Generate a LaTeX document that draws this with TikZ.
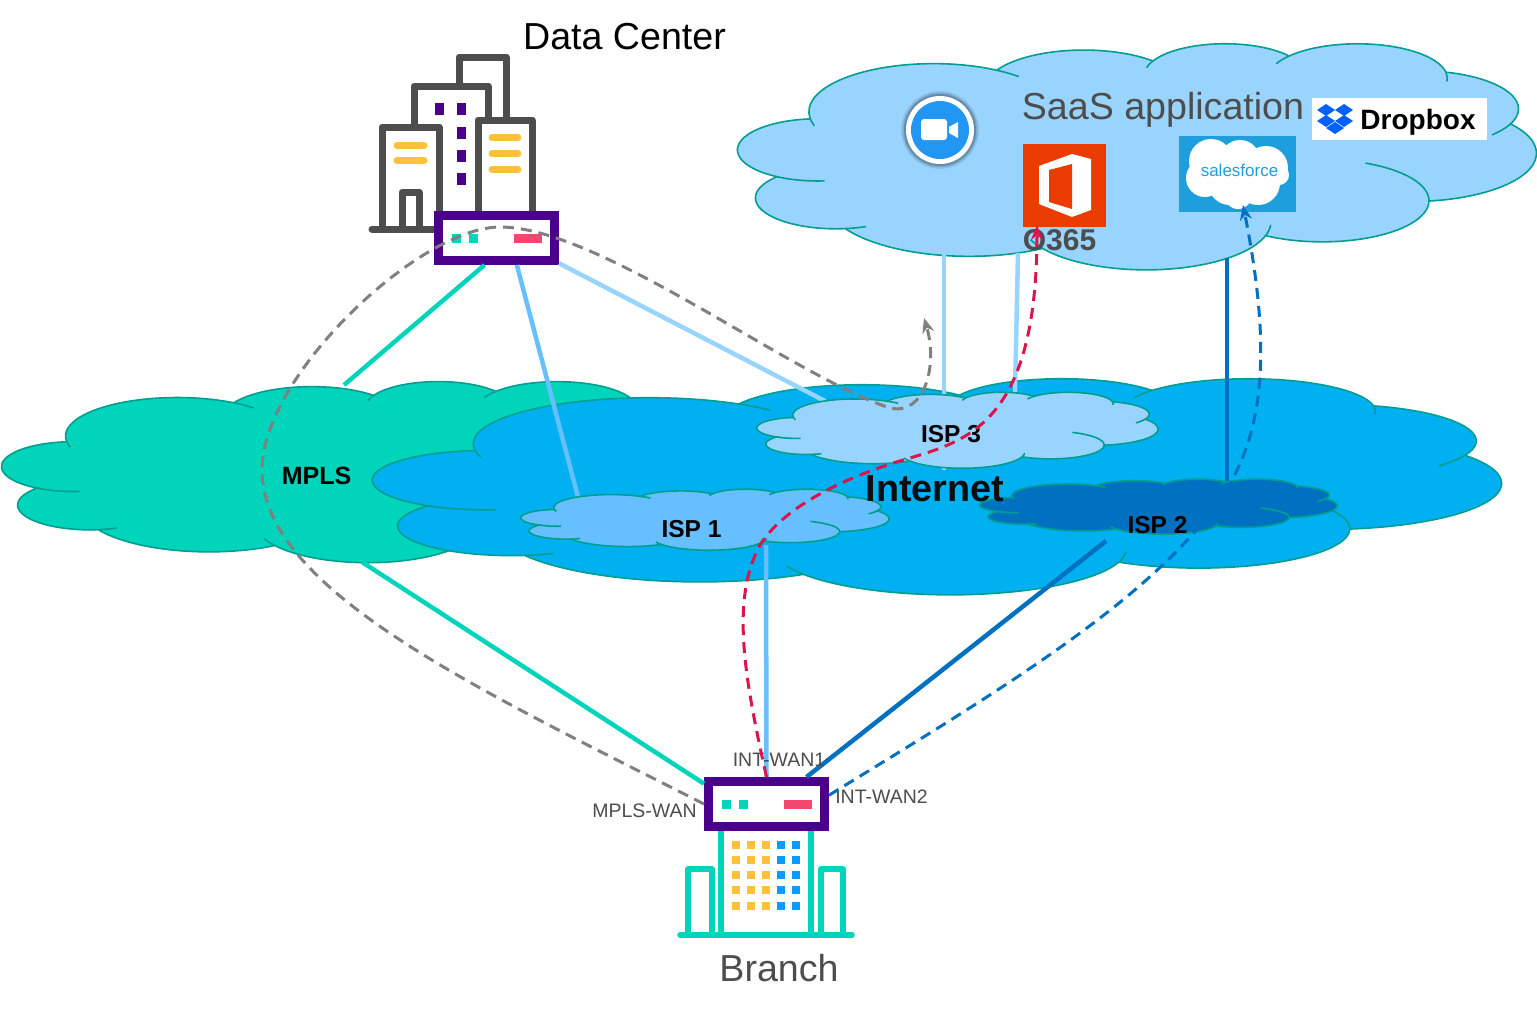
\documentclass[tikz,border=0pt]{standalone}
\usepackage{fontspec}
\setmainfont{Liberation Sans}
\usetikzlibrary{calc, arrows.meta}

\definecolor{cloudline}{HTML}{009E8E}
\definecolor{mplsgreen}{HTML}{00D5BC}
\definecolor{netblue}{HTML}{00B0F0}
\definecolor{lightblue}{HTML}{99D4FF}
\definecolor{midblue}{HTML}{66BFFF}
\definecolor{darkblue}{HTML}{0070C0}
\definecolor{routerpurple}{HTML}{4B008C}
\definecolor{alertred}{HTML}{F44770}
\definecolor{dashred}{HTML}{DC144C}
\definecolor{winyellow}{HTML}{FFC13A}
\definecolor{winblue}{HTML}{0A9BFF}
\definecolor{towergray}{HTML}{4D4D4B}
\definecolor{textgray}{HTML}{4D4D4D}
\definecolor{zoomblue}{HTML}{2196F3}
\definecolor{officered}{HTML}{EB3C00}
\definecolor{salesblue}{HTML}{1F9EDD}
\definecolor{dropblue}{HTML}{0061FF}

% cloud outline: left, top, width, height, fill
\newcommand{\cloudshape}[5]{
    \begin{scope}[shift={(#1,#2)}, xscale=#3/43.2, yscale=#4/43.2]
        \draw[cloudline, line width=1.6pt, fill=#5] (3.9,14.37)
            arc[start angle=172.25, delta angle=128.15, x radius=6.753, y radius=9.19]
            arc[start angle=-152.02, delta angle=106.57, x radius=5.333, y radius=7.267]
            arc[start angle=-153.5, delta angle=116.18, x radius=4.365, y radius=5.945]
            arc[start angle=-139.72, delta angle=129.51, x radius=4.857, y radius=6.595]
            arc[start angle=-74.77, delta angle=97.98, x radius=5.333, y radius=7.273]
            arc[start angle=-37.56, delta angle=119.43, x radius=6.775, y radius=9.22]
            arc[start angle=0.46, delta angle=121.51, x radius=5.785, y radius=7.867]
            arc[start angle=16.85, delta angle=129.38, x radius=6.752, y radius=9.215]
            arc[start angle=58.97, delta angle=91.22, x radius=7.72, y radius=10.543]
            arc[start angle=83.3, delta angle=139.8, x radius=4.36, y radius=5.918]
            arc[start angle=120.35, delta angle=143.75, x radius=4.345, y radius=5.945]
            -- cycle;
        % short inner strokes
        \foreach \cx/\cy/\erx/\ery/\ta/\tb in {
            10.591/13.131/6.753/9.19/163/172.25,
            10.591/13.131/6.753/9.19/-59.6/-46.9,
            26.364/6.086/4.365/5.945/-166.7/-153.5,
            33.539/6.747/4.857/6.595/-154.9/-139.72,
            33.539/6.747/4.857/6.595/-10.21/5,
            36.918/12.596/5.333/7.273/23.21/43,
            31.623/30.147/5.785/7.867/-66.1/0.46,
            22.098/34.15/6.752/9.215/3.74/16.85,
            22.098/34.15/6.752/9.215/146.23/158,
            5.296/29.601/4.36/5.918/68/83.3,
            4.307/20.427/4.345/5.945/84.9/120.35}
            \draw[cloudline, line width=1.6pt] (\cx,\cy) ++({\erx*cos(\ta)},{\ery*sin(\ta)})
                arc[start angle=\ta, end angle=\tb, x radius=\erx, y radius=\ery];
    \end{scope}
}

\begin{document}
\begin{tikzpicture}[
        x=1pt, y=-1pt,
        router/.style={draw=routerpurple, line width=9pt, fill=white, inner sep=0pt,
            minimum width=116pt, minimum height=45pt},
        wanlabel/.style={inner sep=0pt, text=textgray, font=\fontsize{19.5}{21}\selectfont},
        bigtext/.style={inner sep=0pt, text=textgray, font=\fontsize{37.6}{40}\selectfont},
        isptext/.style={inner sep=0pt, text=black, font=\fontsize{24.5}{26}\selectfont\bfseries},
        tower/.style={towergray, line width=7pt, line join=round, line cap=round},
        branchline/.style={mplsgreen, line width=5.5pt, line join=round, line cap=round},
        barmark/.style={winyellow, line width=7pt, line cap=round},
        link/.style={line width=4.5pt},
        dashlink/.style={line width=3pt, dash pattern=on 11pt off 7pt, -{Stealth[length=15pt, width=12pt]}}
    ]
    \useasboundingbox (0,0) rectangle (1537,1013);
    \fill[white] (0,0) rectangle (1537,1013);

    % Big clouds
    \cloudshape{2}{381}{715}{181}{mplsgreen}
    \cloudshape{373}{378}{1128}{216}{netblue}
    \cloudshape{738}{43}{798}{226}{lightblue}

    % Data center building
    \draw[tower] (459,83) -- (459,57) -- (506,57) -- (506,118);
    \draw[tower] (414,125) -- (414,86) -- (488,86) -- (488,118);
    \draw[tower] (382,229) -- (382,127) -- (439,127) -- (439,212);
    \draw[tower] (478,212) -- (478,120) -- (532,120) -- (532,212);
    \draw[tower] (402,229) -- (402,192) -- (419,192) -- (419,229);
    \draw[tower] (372,229) -- (436,229);
    \foreach \wx/\wy in {439/109, 461/109, 461/133, 461/156, 461/179}
        \fill[routerpurple] (\wx-4.5,\wy-6) rectangle (\wx+4.5,\wy+6);
    \foreach \by in {145.5, 160.5}
        \draw[barmark] (397,\by) -- (424,\by);
    \foreach \by in {137.5, 153.5, 169}
        \draw[barmark] (492,\by) -- (518,\by);

    % Branch building
    \foreach \wx in {721, 811}
        \draw[mplsgreen, line width=6pt] (\wx,830) -- (\wx,935);
    \draw[branchline] (688,935) -- (688,869) -- (712,869) -- (712,935);
    \draw[branchline] (821,935) -- (821,869) -- (843,869) -- (843,935);
    \draw[branchline] (680,935) -- (852,935);
    \foreach \wy in {845, 860, 875, 890, 906} {
        \foreach \wx in {736, 751, 766}
            \fill[winyellow] (\wx-3.8,\wy-3.8) rectangle (\wx+3.8,\wy+3.8);
        \foreach \wx in {781, 796}
            \fill[winblue] (\wx-3.8,\wy-3.8) rectangle (\wx+3.8,\wy+3.8);
    }

    % Routers
    \node[router] (dcRouter) at (496.5,238) {};
    \node[router] (branchRouter) at (766.5,804) {};
    \foreach \rname in {dcRouter, branchRouter} {
        \fill[mplsgreen] ($(\rname.center)+(-44.5,-4.5)$) rectangle ++(9,9);
        \fill[mplsgreen] ($(\rname.center)+(-27.5,-4.5)$) rectangle ++(9,9);
        \fill[alertred] ($(\rname.center)+(17.5,-4.5)$) rectangle ++(28,9);
    }

    % Cloud attachment points
    \coordinate (mplsTop) at (344,385);
    \coordinate (mplsBottom) at (362,562);
    \coordinate (isp1Top) at (578,497);
    \coordinate (isp1Bottom) at (766,545);
    \coordinate (isp2Top) at (1227,485);
    \coordinate (isp2Bottom) at (1106,541);
    \coordinate (isp3Left) at (825,401);
    \coordinate (isp3Under) at (944,470);
    \coordinate (isp3Right) at (1015,392);
    \coordinate (saasLeft) at (944,253);
    \coordinate (saasMid) at (1018,253);
    \coordinate (saasRight) at (1227,258);

    % Links
    \draw[link, mplsgreen] (dcRouter.-114) -- (mplsTop);
    \draw[link, mplsgreen] (mplsBottom) -- (branchRouter.162);
    \draw[link, midblue] (dcRouter.-53) -- (isp1Top);
    \draw[link, midblue] (isp1Bottom) -- (branchRouter.north);
    \draw[link, lightblue] (dcRouter.-22) -- (isp3Left);
    \draw[link, lightblue] (saasLeft) -- (isp3Under);
    \draw[link, lightblue] (saasMid) -- (isp3Right);
    \draw[link, darkblue] (saasRight) -- (isp2Top);
    \draw[link, darkblue] (isp2Bottom) -- (branchRouter.34);

    % ISP clouds
    \cloudshape{757}{392}{401}{76}{lightblue}
    \cloudshape{521}{489}{368}{61}{midblue}
    \cloudshape{980}{479}{357}{55}{darkblue}

    % Zoom icon
    \foreach \gr/\gop in {39/0.08, 37.5/0.12, 36/0.18}
        \fill[black, opacity=\gop] (940,130) circle (\gr);
    \node[circle, fill=white, inner sep=0pt, minimum size=68pt] (zoomIcon) at (940,130) {};
    \fill[zoomblue] (940,130) circle (29);
    \fill[white, rounded corners=3pt] (921,119) rectangle (947,140);
    \fill[white] (949,127) -- (958,122) -- (958,138) -- (949,133) -- cycle;

    % Office icon
    \node[fill=officered, inner sep=0pt, minimum size=83pt] (officeIcon) at (1064.5,185.5) {};
    \fill[white] (1039,166) -- (1072,154) -- (1091,159) -- (1091,210) -- (1072,217) -- (1039,204) -- cycle;
    \fill[officered] (1049,170) -- (1072,164) -- (1072,209) -- (1049,202) -- cycle;

    % Salesforce icon
    \node[fill=salesblue, inner sep=0pt, minimum width=117pt, minimum height=76pt] (salesIcon) at (1237.5,174) {};
    \foreach \sx/\sy/\sr in {1211/161/22, 1240/160/20, 1266/168/22, 1205/178/19, 1230/183/22, 1258/183/22, 1238/195/14, 1279/175/10}
        \fill[white] (\sx,\sy) circle (\sr);
    \node[inner sep=0pt, text=salesblue, font=\fontsize{17}{19}\selectfont] (salesText) at (1239.5,170) {salesforce};

    % Dropbox icon
    \node[fill=white, inner sep=0pt, minimum width=175pt, minimum height=42pt] (dropIcon) at (1399.5,119) {};
    \foreach \dx/\dy in {1326/110, 1344/110, 1326/121, 1344/121, 1335/128}
        \fill[dropblue] (\dx-9,\dy) -- (\dx,\dy-6) -- (\dx+9,\dy) -- (\dx,\dy+6) -- cycle;
    \node[inner sep=0pt, text=black, font=\fontsize{28}{30}\selectfont\bfseries] (dropText) at (1418,122) {Dropbox};

    % Texts
    \node[bigtext, text=black] (dcText) at (624.5,37) {Data Center};
    \node[bigtext] (saasText) at (1163,110) {SaaS application};
    \node[bigtext] (branchText) at (779,968) {Branch};
    \node[inner sep=0pt, text=textgray, font=\fontsize{30}{32}\selectfont\bfseries] (o365Text) at (1059.5,240) {O365};
    \node[inner sep=0pt, text=black!95, font=\fontsize{37.8}{40}\selectfont\bfseries] (netText) at (935,489) {Internet};
    \node[isptext, font=\fontsize{25}{27}\selectfont\bfseries] (mplsText) at (316.5,476) {MPLS};
    \node[isptext] (isp1Text) at (691.5,529) {ISP 1};
    \node[isptext] (isp2Text) at (1157.5,525) {ISP 2};
    \node[isptext] (isp3Text) at (951,434) {ISP 3};
    \node[wanlabel] (wan1Text) at (779,760) {INT-WAN1};
    \node[wanlabel] (wan2Text) at (881.5,797) {INT-WAN2};
    \node[wanlabel] (wan0Text) at (644.5,811) {MPLS-WAN};

    % Traffic paths
    \draw[dashlink, gray] (branchRouter.180)
        .. controls (480,690) and (262,590) .. (262,470)
        .. controls (262,375) and (420,227) .. (500,227)
        .. controls (600,227) and (790,375) .. (890,408)
        .. controls (925,416) and (938,365) .. (924,318);
    \draw[dashlink, dashred] (branchRouter.north)
        .. controls (745,680) and (730,600) .. (760,545)
        .. controls (785,505) and (850,475) .. (910,458)
        .. controls (970,440) and (1037,420) .. (1037,225);
    \draw[dashlink, darkblue] (branchRouter.8)
        .. controls (1000,690) and (1170,590) .. (1232,480)
        .. controls (1265,420) and (1270,340) .. (1243,205);
\end{tikzpicture}
\end{document}
